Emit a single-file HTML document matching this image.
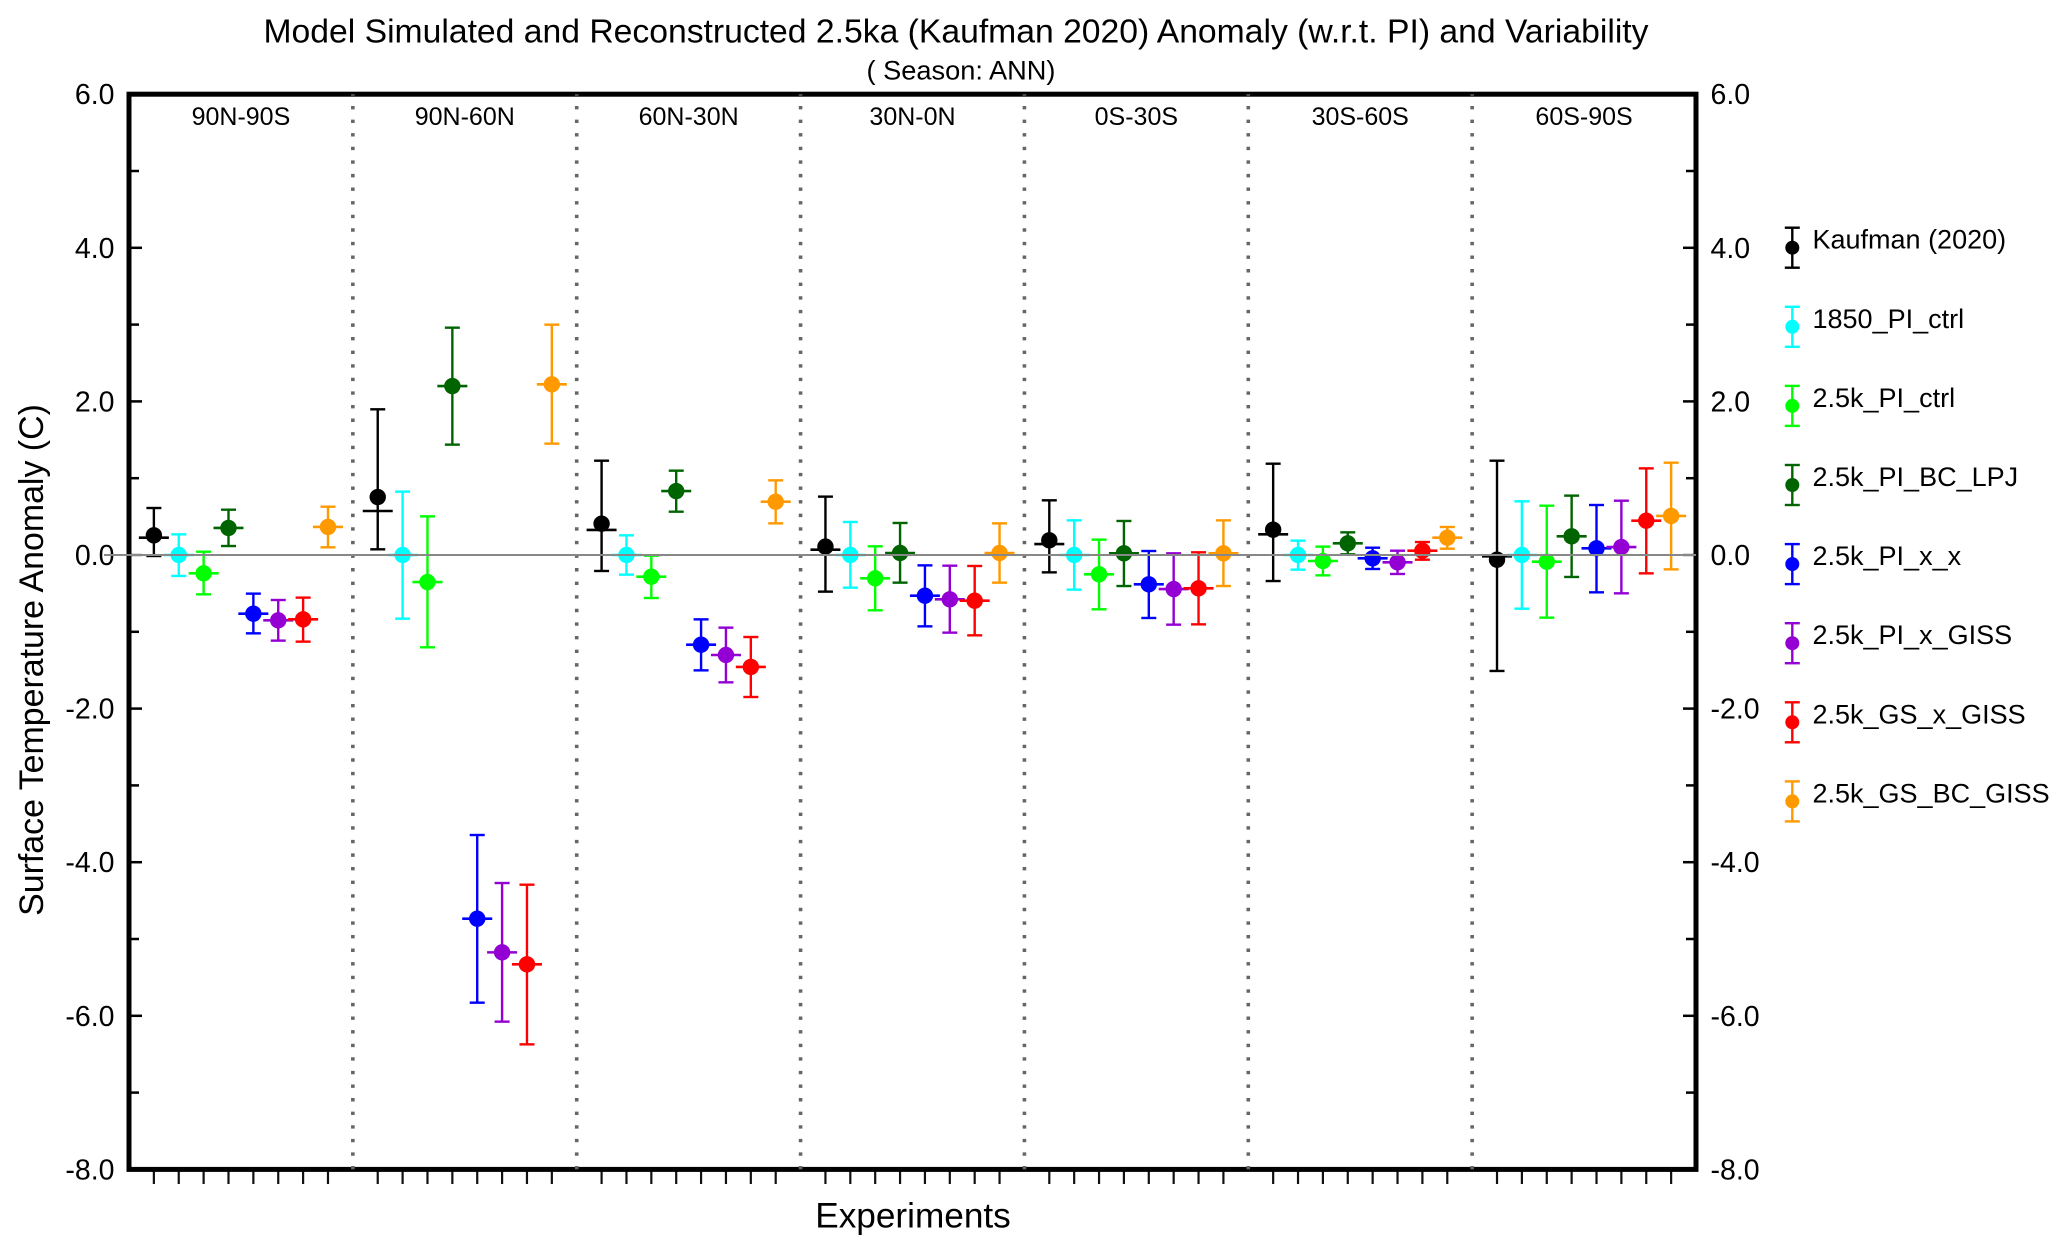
<!DOCTYPE html>
<html lang="en">
<head>
<meta charset="utf-8">
<title>Model Simulated and Reconstructed 2.5ka Anomaly and Variability</title>
<style>
html,body{margin:0;padding:0;background:#fff;width:2067px;height:1252px;overflow:hidden}
svg{display:block}
text{font-family:"Liberation Sans",Arial,sans-serif;fill:#000}
</style>
</head>
<body>
<svg id="chart" xmlns="http://www.w3.org/2000/svg" width="2067" height="1252" viewBox="0 0 2067 1252">
  <rect x="0" y="0" width="2067" height="1252" fill="#fff"/>
  <text x="956" y="42.5" font-size="33.7" text-anchor="middle">Model Simulated and Reconstructed 2.5ka (Kaufman 2020) Anomaly (w.r.t. PI) and Variability</text>
  <text x="961" y="79.5" font-size="27.2" text-anchor="middle">( Season: ANN)</text>
  <text transform="translate(43,660) rotate(-90)" font-size="33.9" text-anchor="middle">Surface Temperature Anomaly (C)</text>
  <text x="913" y="1227.5" font-size="35.2" text-anchor="middle">Experiments</text>
  <g id="marks"></g>
  <g id="legend"></g>
</svg>
<script>
const regions = ['90N-90S','90N-60N','60N-30N','30N-0N','0S-30S','30S-60S','60S-90S'];
const seriesNames = ['Kaufman (2020)','1850_PI_ctrl','2.5k_PI_ctrl','2.5k_PI_BC_LPJ','2.5k_PI_x_x','2.5k_PI_x_GISS','2.5k_GS_x_GISS','2.5k_GS_BC_GISS'];
const yTickLabels = ['6.0','4.0','2.0','0.0','-2.0','-4.0','-6.0','-8.0'];
const yTickValues = [6,4,2,0,-2,-4,-6,-8];
const yMinorValues = [5,3,1,-1,-3,-5,-7];

// Means (dots), one value per region
const kaufmanMean  = [0.256,0.755,0.408,0.109,0.191,0.330,-0.061];
const ctrl1850Mean = [0,0,0,0,0,0,0];
const ctrl25kMean  = [-0.239,-0.352,-0.282,-0.304,-0.252,-0.078,-0.087];
const bcLpjMean    = [0.352,2.200,0.833,0.026,0.022,0.152,0.243];
const xxMean       = [-0.764,-4.735,-1.168,-0.530,-0.382,-0.043,0.087];
const xGissMean    = [-0.851,-5.174,-1.302,-0.577,-0.443,-0.095,0.104];
const gsxGissMean  = [-0.838,-5.330,-1.458,-0.595,-0.434,0.056,0.447];
const gsBcGissMean = [0.365,2.222,0.694,0.026,0.022,0.226,0.508];

// Horizontal centre bar of the reconstruction (differs from its dot)
const kaufmanCentre = [0.226,0.573,0.326,0.069,0.143,0.269,-0.017];

// Upper whisker ends
const kaufmanUpper  = [0.612,1.897,1.228,0.760,0.712,1.189,1.228];
const ctrl1850Upper = [0.269,0.825,0.256,0.430,0.451,0.187,0.699];
const ctrl25kUpper  = [0.043,0.503,-0.009,0.113,0.200,0.109,0.642];
const bcLpjUpper    = [0.590,2.960,1.098,0.417,0.443,0.295,0.773];
const xxUpper       = [-0.503,-3.646,-0.838,-0.135,0.052,0.095,0.651];
const xGissUpper    = [-0.586,-4.271,-0.946,-0.139,0.022,0.056,0.707];
const gsxGissUpper  = [-0.555,-4.293,-1.068,-0.143,0.035,0.169,1.128];
const gsBcGissUpper = [0.629,2.999,0.972,0.412,0.451,0.365,1.202];

// Lower whisker ends
const kaufmanLower  = [-0.013,0.074,-0.208,-0.477,-0.226,-0.339,-1.510];
const ctrl1850Lower = [-0.273,-0.829,-0.256,-0.425,-0.451,-0.191,-0.699];
const ctrl25kLower  = [-0.512,-1.202,-0.560,-0.720,-0.707,-0.265,-0.816];
const bcLpjLower    = [0.117,1.437,0.564,-0.360,-0.404,0.009,-0.286];
const xxLower       = [-1.020,-5.829,-1.502,-0.929,-0.820,-0.182,-0.486];
const xGissLower    = [-1.115,-6.076,-1.658,-1.011,-0.907,-0.247,-0.499];
const gsxGissLower  = [-1.128,-6.372,-1.849,-1.046,-0.903,-0.061,-0.239];
const gsBcGissLower = [0.100,1.450,0.412,-0.360,-0.404,0.082,-0.187];

const seriesMeans   = [kaufmanMean,ctrl1850Mean,ctrl25kMean,bcLpjMean,xxMean,xGissMean,gsxGissMean,gsBcGissMean];
const seriesCentres = [kaufmanCentre,ctrl1850Mean,ctrl25kMean,bcLpjMean,xxMean,xGissMean,gsxGissMean,gsBcGissMean];
const seriesUppers  = [kaufmanUpper,ctrl1850Upper,ctrl25kUpper,bcLpjUpper,xxUpper,xGissUpper,gsxGissUpper,gsBcGissUpper];
const seriesLowers  = [kaufmanLower,ctrl1850Lower,ctrl25kLower,bcLpjLower,xxLower,xGissLower,gsxGissLower,gsBcGissLower];

const palette = ['#000000','#00ffff','#00ff00','#006400','#0000ff','#9400d3','#ff0000','#ff9900'];

const NS = 'http://www.w3.org/2000/svg';
const plotLeft = 129, plotRight = 1696, plotTop = 94.2, plotBottom = 1169.4;
const yTop = 6, yBottom = -8;
const slotsPerPanel = 9;

function yScale(v){ return plotTop + (yTop - v) / (yTop - yBottom) * (plotBottom - plotTop); }
function panelLeft(i){ return plotLeft + i * (plotRight - plotLeft) / regions.length; }
function xScale(panel, slot){ return panelLeft(panel) + slot * (plotRight - plotLeft) / regions.length / slotsPerPanel; }

function make(parent, tag, attrs){
  const el = document.createElementNS(NS, tag);
  for (const k in attrs) el.setAttribute(k, attrs[k]);
  parent.appendChild(el);
  return el;
}
function line(parent, x1, y1, x2, y2, stroke, width){
  return make(parent, 'line', {x1:x1, y1:y1, x2:x2, y2:y2, stroke:stroke, 'stroke-width':width});
}

const marks = document.getElementById('marks');
const legend = document.getElementById('legend');

// panel labels
regions.forEach(function(name, i){
  const t = make(marks, 'text', {x: panelLeft(i) + (plotRight - plotLeft) / regions.length / 2, y: 125, 'font-size': 25, 'text-anchor': 'middle'});
  t.textContent = name;
  
  
});

// series marks
seriesNames.forEach(function(name, s){
  regions.forEach(function(region, p){
    const g = make(marks, 'g', {});
    
    
    const x = xScale(p, s + 1);
    const c = palette[s];
    line(g, x, yScale(seriesUppers[s][p]), x, yScale(seriesLowers[s][p]), c, 2.4);
    line(g, x - 7.5, yScale(seriesUppers[s][p]), x + 7.5, yScale(seriesUppers[s][p]), c, 2.4);
    line(g, x - 7.5, yScale(seriesLowers[s][p]), x + 7.5, yScale(seriesLowers[s][p]), c, 2.4);
    line(g, x - 15, yScale(seriesCentres[s][p]), x + 15, yScale(seriesCentres[s][p]), c, 2.6);
    make(g, 'circle', {cx: x, cy: yScale(seriesMeans[s][p]), r: 8.2, fill: c});
  });
});

// x ticks
for (let p = 0; p < regions.length; p++) {
  for (let k = 1; k < slotsPerPanel; k++) {
    const tick = line(marks, xScale(p, k), plotBottom, xScale(p, k), 1184, '#111', 2.2);
    
    
  }
}

// y ticks and labels on both sides
yTickValues.forEach(function(v, i){
  const y = yScale(v);
  const stroke = v === 0 ? '#777' : '#000';
  if (v !== yTop && v !== yBottom) {
    const tl = line(marks, plotLeft, y, plotLeft + 13, y, stroke, 2.5);
    
    
    const tr = line(marks, plotRight - 13, y, plotRight, y, stroke, 2.5);
    
    
  }
  const left = make(marks, 'text', {x: 114.5, y: y + 10, 'font-size': 28.5, 'text-anchor': 'end'});
  left.textContent = yTickLabels[i];
  
  
  const right = make(marks, 'text', {x: 1710.5, y: y + 10, 'font-size': 28.5});
  right.textContent = yTickLabels[i];
  
  
});
yMinorValues.forEach(function(v){
  const y = yScale(v);
  const tl = line(marks, plotLeft, y, plotLeft + 10, y, '#000', 2.5);
  
  
  const tr = line(marks, plotRight - 10, y, plotRight, y, '#000', 2.5);
  
  
});

// frame
const frame = make(marks, 'rect', {x: plotLeft, y: plotTop, width: plotRight - plotLeft, height: plotBottom - plotTop, fill: 'none', stroke: '#000', 'stroke-width': 5});



// panel separators
for (let i = 1; i < regions.length; i++) {
  const sep = line(marks, panelLeft(i), plotBottom, panelLeft(i), plotTop, '#666', 3.6);
  sep.setAttribute('stroke-dasharray', '3.4 10.19');
  
  
}

// zero reference line
const zero = line(marks, 104, yScale(0), plotRight, yScale(0), '#888', 2);



// legend
seriesNames.forEach(function(name, s){
  const cy = 247.7 + s * 79.1, cx = 1792.3, c = palette[s];
  const g = make(legend, 'g', {});
  
  
  line(g, cx, cy - 20, cx, cy + 20, c, 2.4);
  line(g, cx - 7.5, cy - 20, cx + 7.5, cy - 20, c, 2.4);
  line(g, cx - 7.5, cy + 20, cx + 7.5, cy + 20, c, 2.4);
  make(g, 'circle', {cx: cx, cy: cy, r: 7, fill: c});
  const t = make(g, 'text', {x: 1812.5, y: cy + 1, 'font-size': 27});
  t.textContent = name;
});
</script>
</body>
</html>
